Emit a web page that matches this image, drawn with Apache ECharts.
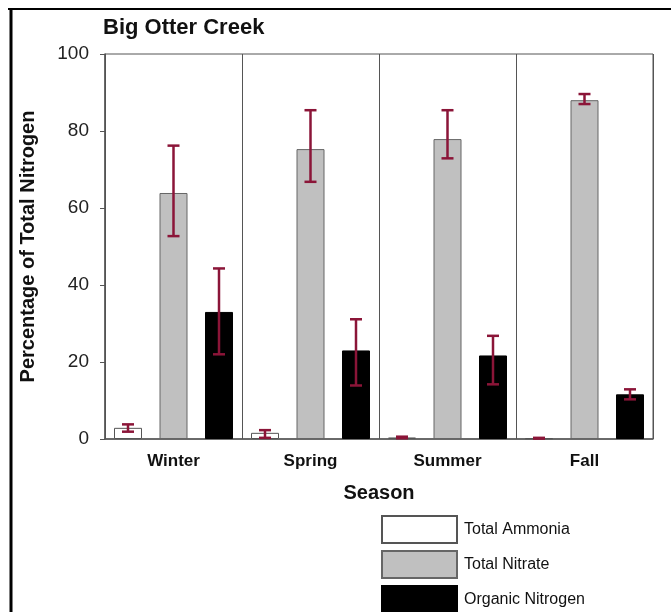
<!DOCTYPE html>
<html>
<head>
<meta charset="utf-8">
<script src="https://cdn.jsdelivr.net/npm/echarts@6/dist/echarts.min.js"></script>
<style>
html,body{margin:0;padding:0;background:#fff;}
#chart{width:671px;height:612px;}
</style>
</head>
<body>
<div id="chart"></div>
<script>
const categories = ['Winter', 'Spring', 'Summer', 'Fall'];
const yTicks = [0, 20, 40, 60, 80, 100];

const ammonia = [2.9, 1.6, 0.4, 0.2];
const ammoniaLow = [1.9, 0.3, 0.2, 0.1];
const ammoniaHigh = [3.8, 2.3, 0.6, 0.3];

const nitrate = [63.9, 75.3, 77.9, 88.0];
const nitrateLow = [52.7, 66.8, 72.9, 87.0];
const nitrateHigh = [76.2, 85.4, 85.4, 89.6];

const organic = [33.0, 23.0, 21.7, 11.6];
const organicLow = [22.0, 13.9, 14.2, 10.3];
const organicHigh = [44.3, 31.1, 26.8, 12.9];

const BAR_W = 28;
const BAR_GAP = 0.625;
const ERR_COLOR = '#8b1538';
const FONT = 'Liberation Sans, Arial, sans-serif';

function errSeries(low, high, slot) {
  return {
    type: 'custom',
    z: 10,
    silent: true,
    data: categories.map((c, i) => [i, low[i], high[i]]),
    encode: { x: 0, y: [1, 2] },
    renderItem: function (params, api) {
      const off = slot * BAR_W * (1 + BAR_GAP);
      const pLo = api.coord([api.value(0), api.value(1)]);
      const pHi = api.coord([api.value(0), api.value(2)]);
      const x = pLo[0] + off;
      const cap = 6;
      const style = { stroke: ERR_COLOR, lineWidth: 2.5 };
      return {
        type: 'group',
        children: [
          { type: 'line', shape: { x1: x, y1: pLo[1], x2: x, y2: pHi[1] }, style: style },
          { type: 'line', shape: { x1: x - cap, y1: pLo[1], x2: x + cap, y2: pLo[1] }, style: style },
          { type: 'line', shape: { x1: x - cap, y1: pHi[1], x2: x + cap, y2: pHi[1] }, style: style }
        ]
      };
    }
  };
}

const chart = echarts.init(document.getElementById('chart'));
chart.setOption({
  animation: false,
  backgroundColor: '#fff',
  textStyle: { fontFamily: FONT },
  title: {
    text: 'Big Otter Creek',
    left: 98, top: 12,
    textStyle: { fontSize: 22, fontWeight: 'bold', color: '#111', fontFamily: FONT }
  },
  graphic: [
    { type: 'line', shape: { x1: 8, y1: 9, x2: 671, y2: 9 }, style: { stroke: '#000', lineWidth: 2 } },
    { type: 'line', shape: { x1: 11, y1: 8, x2: 11, y2: 612 }, style: { stroke: '#000', lineWidth: 3 } }
  ],
  legend: {
    orient: 'vertical',
    left: 381, top: 515,
    padding: 0,
    height: 120,
    itemWidth: 75, itemHeight: 27,
    itemGap: 6,
    icon: 'rect',
    data: ['Total Ammonia', 'Total Nitrate', 'Organic Nitrogen'],
    textStyle: { fontSize: 16, color: '#111', fontFamily: FONT, padding: [0, 0, 0, 2] }
  },
  grid: {
    left: 105, right: 18, top: 54, bottom: 173,
    show: true, borderColor: '#555', borderWidth: 1
  },
  xAxis: {
    type: 'category',
    data: categories,
    axisLine: { lineStyle: { color: '#555', width: 1.5 } },
    axisTick: { show: false },
    splitLine: { show: true, lineStyle: { color: '#555', width: 1 } },
    axisLabel: { fontSize: 17, fontWeight: 'bold', color: '#111', margin: 14, fontFamily: FONT },
    name: 'Season',
    nameLocation: 'middle',
    nameGap: 44,
    nameTextStyle: { fontSize: 20, fontWeight: 'bold', color: '#111', fontFamily: FONT }
  },
  yAxis: {
    type: 'value',
    min: yTicks[0], max: yTicks[yTicks.length - 1], interval: 20,
    axisLine: { show: true, lineStyle: { color: '#555', width: 1.5 } },
    axisTick: { show: true, length: 5, lineStyle: { color: '#555' } },
    splitLine: { show: false },
    axisLabel: { fontSize: 19, color: '#222', margin: 16, fontFamily: FONT },
    name: 'Percentage of Total Nitrogen',
    nameLocation: 'middle',
    nameGap: 67,
    nameTextStyle: { fontSize: 20, fontWeight: 'bold', color: '#111', fontFamily: FONT }
  },
  series: [
    {
      name: 'Total Ammonia', type: 'bar', data: ammonia,
      barWidth: BAR_W, barGap: (BAR_GAP * 100) + '%',
      itemStyle: { color: '#ffffff', borderColor: '#555', borderWidth: 1 }
    },
    {
      name: 'Total Nitrate', type: 'bar', data: nitrate,
      barWidth: BAR_W, barGap: (BAR_GAP * 100) + '%',
      itemStyle: { color: '#c0c0c0', borderColor: '#666', borderWidth: 1 }
    },
    {
      name: 'Organic Nitrogen', type: 'bar', data: organic,
      barWidth: BAR_W, barGap: (BAR_GAP * 100) + '%',
      itemStyle: { color: '#000000', borderColor: '#000', borderWidth: 1 }
    },
    errSeries(ammoniaLow, ammoniaHigh, -1),
    errSeries(nitrateLow, nitrateHigh, 0),
    errSeries(organicLow, organicHigh, 1)
  ]
});
</script>
</body>
</html>
